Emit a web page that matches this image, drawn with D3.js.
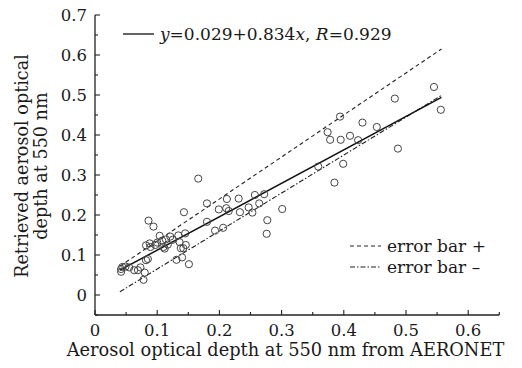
<!DOCTYPE html>
<html>
<head>
<meta charset="utf-8">
<script src="https://cdn.jsdelivr.net/npm/d3@7"></script>
<style>
  body { margin: 0; background: #fff; }
  text { font-family: "DejaVu Serif", serif; fill: #1a1a1a; }
</style>
</head>
<body>
<svg id="chart" width="522" height="368"></svg>
<script>
// AERONET AOD (x) vs retrieved AOD (y)
const obsX = [
  0.042, 0.042, 0.044, 0.049, 0.055, 0.063, 0.069, 0.073, 0.078, 0.080,
  0.082, 0.085, 0.082, 0.088, 0.089, 0.086, 0.094, 0.097, 0.100, 0.104,
  0.108, 0.110, 0.112, 0.114, 0.117, 0.121, 0.125, 0.131, 0.134, 0.136,
  0.138, 0.140, 0.142, 0.143, 0.145, 0.146, 0.151,
  0.166, 0.180, 0.180, 0.193, 0.199, 0.206, 0.211, 0.212, 0.215, 0.231,
  0.233, 0.247, 0.253, 0.257, 0.264, 0.272, 0.277, 0.276, 0.301,
  0.359, 0.374, 0.378, 0.385, 0.394, 0.395, 0.399, 0.410, 0.423, 0.430,
  0.453, 0.482, 0.487, 0.545, 0.556
];
const retY = [
  0.058, 0.065, 0.070, 0.071, 0.069, 0.062, 0.062, 0.069, 0.038, 0.056,
  0.087, 0.090, 0.124, 0.129, 0.120, 0.186, 0.171, 0.125, 0.131, 0.148,
  0.136, 0.120, 0.116, 0.139, 0.126, 0.146, 0.138, 0.088, 0.149, 0.132,
  0.117, 0.094, 0.117, 0.207, 0.154, 0.125, 0.077,
  0.291, 0.229, 0.183, 0.161, 0.214, 0.168, 0.217, 0.240, 0.210, 0.241,
  0.207, 0.219, 0.206, 0.250, 0.229, 0.252, 0.187, 0.153, 0.215,
  0.321, 0.407, 0.388, 0.281, 0.446, 0.388, 0.328, 0.398, 0.387, 0.431,
  0.420, 0.491, 0.366, 0.520, 0.463
];

// line end points: fit, upper and lower error bars
const lineX = [0.040, 0.557];
const fitY = [0.062, 0.494];
const upperY = [0.072, 0.615];
const lowerY = [0.008, 0.499];

const xTicks = [0, 0.1, 0.2, 0.3, 0.4, 0.5, 0.6];
const yTicks = [0, 0.1, 0.2, 0.3, 0.4, 0.5, 0.6, 0.7];

const svg = d3.select('#chart');

const x = d3.scaleLinear().domain([0, 0.65]).range([95, 499.3]);
const y = d3.scaleLinear().domain([-0.05, 0.7]).range([315, 15]);

// axes, ticks inward
const gx = svg.append('g').attr('transform', 'translate(0,315)');
gx.append('line').attr('x1', 95).attr('x2', 499.3).attr('stroke', '#222').attr('stroke-width', 1.3);
gx.selectAll('.minor').data(d3.range(0, 0.651, 0.05)).enter().append('line')
  .attr('x1', d => x(d)).attr('x2', d => x(d))
  .attr('y1', 0).attr('y2', (d, i) => i % 2 === 0 ? -5 : -3)
  .attr('stroke', '#222').attr('stroke-width', 1.1);
gx.selectAll('text').data(xTicks).enter().append('text')
  .attr('x', d => x(d)).attr('y', 21)
  .attr('text-anchor', 'middle')
  .style('font-size', '16.5px')
  .text(d => d === 0 ? '0' : d3.format('.1f')(d));

const gy = svg.append('g').attr('transform', 'translate(95,0)');
gy.append('line').attr('y1', 15).attr('y2', 315).attr('stroke', '#222').attr('stroke-width', 1.3);
gy.selectAll('.minor').data(d3.range(-0.05, 0.701, 0.05)).enter().append('line')
  .attr('y1', d => y(d)).attr('y2', d => y(d))
  .attr('x1', 0).attr('x2', (d, i) => i % 2 === 1 ? 5 : 3)
  .attr('stroke', '#222').attr('stroke-width', 1.1);
gy.selectAll('text').data(yTicks).enter().append('text')
  .attr('x', -8).attr('y', d => y(d))
  .attr('dy', '0.36em')
  .attr('text-anchor', 'end')
  .style('font-size', '16.5px')
  .text(d => d === 0 ? '0' : d3.format('.1f')(d));

// axis titles
svg.append('text')
  .attr('x', 285.5).attr('y', 356)
  .attr('text-anchor', 'middle')
  .style('font-size', '17.8px')
  .text('Aerosol optical depth at 550 nm from AERONET');

const yt = svg.append('text')
  .attr('transform', 'translate(28,166) rotate(-90)')
  .attr('text-anchor', 'middle')
  .style('font-size', '17.6px');
yt.append('tspan').attr('x', 0).attr('y', 0).text('Retrieved aerosol optical');
yt.append('tspan').attr('x', 0).attr('y', 18.5).text('depth at 550 nm');

// lines
const line = d3.line().x(d => x(d[0])).y(d => y(d[1]));
svg.append('path').datum(d3.zip(lineX, upperY)).attr('d', line)
  .attr('fill', 'none').attr('stroke', '#222').attr('stroke-width', 1.1)
  .attr('stroke-dasharray', '4,3');
svg.append('path').datum(d3.zip(lineX, lowerY)).attr('d', line)
  .attr('fill', 'none').attr('stroke', '#222').attr('stroke-width', 1.1)
  .attr('stroke-dasharray', '5,2,1.5,2');
svg.append('path').datum(d3.zip(lineX, fitY)).attr('d', line)
  .attr('fill', 'none').attr('stroke', '#111').attr('stroke-width', 1.5);

// points
svg.append('g').selectAll('circle').data(d3.zip(obsX, retY)).enter().append('circle')
  .attr('cx', d => x(d[0])).attr('cy', d => y(d[1])).attr('r', 3.6)
  .attr('fill', 'none').attr('stroke', '#444').attr('stroke-width', 1);

// legends
svg.append('line').attr('x1', 123).attr('x2', 154).attr('y1', 34).attr('y2', 34)
  .attr('stroke', '#111').attr('stroke-width', 1.3);
const lt = svg.append('text').attr('x', 160).attr('y', 39.5).style('font-size', '17px');
lt.append('tspan').style('font-style', 'italic').text('y');
lt.append('tspan').text('=0.029+0.834');
lt.append('tspan').style('font-style', 'italic').text('x');
lt.append('tspan').text(', ');
lt.append('tspan').style('font-style', 'italic').text('R');
lt.append('tspan').text('=0.929');

const errLegend = [['error bar +', '4,3'], ['error bar \u2013', '5,2,1.5,2']];
errLegend.forEach((e, i) => {
  const yy = 246 + i * 21;
  svg.append('line').attr('x1', 350).attr('x2', 381).attr('y1', yy).attr('y2', yy)
    .attr('stroke', '#222').attr('stroke-width', 1.1).attr('stroke-dasharray', e[1]);
  svg.append('text').attr('x', 387).attr('y', yy + 5.5).style('font-size', '17px').text(e[0]);
});
</script>
</body>
</html>
